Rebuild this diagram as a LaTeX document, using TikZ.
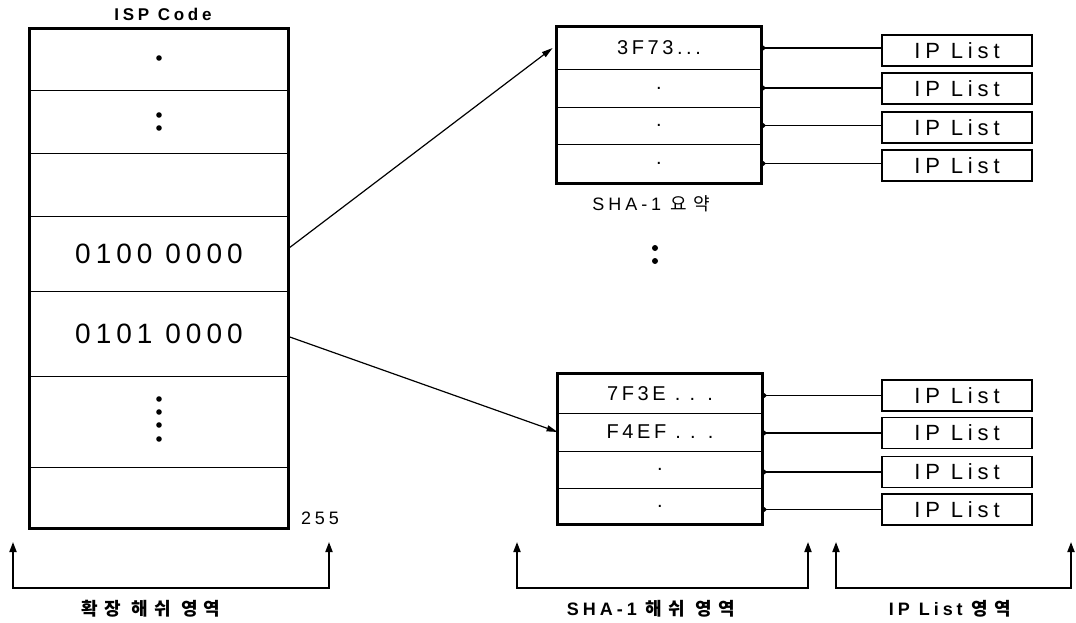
\documentclass[tikz,border=0pt]{standalone}
\usepackage{fontspec}
\setmainfont{Liberation Sans}
\newfontfamily\fA[LetterSpace=18]{Liberation Sans}
\newfontfamily\fB[LetterSpace=22]{Liberation Sans}
\newfontfamily\fK[LetterSpace=35]{Noto Sans CJK KR}
\usetikzlibrary{arrows.meta}
\tikzset{
  cellL/.style={draw, line width=0.8pt, minimum width=258pt, inner sep=0pt,
    font=\fA\fontsize{28}{32}\selectfont},
  cellS/.style={draw, line width=0.8pt, minimum width=204pt, inner sep=0pt,
    font=\fA\fontsize{20}{24}\selectfont},
  ipbox/.style={draw, line width=1.6pt, minimum width=150pt, minimum height=31pt,
    inner sep=0pt, font=\fB\fontsize{22}{26}\selectfont},
  outer/.style={line width=2.6pt},
  conn/.style={line width=1.8pt, {Circle[length=4pt]}-},
  ptr/.style={line width=1.2pt, -{Triangle[length=11pt,width=6pt]}},
  brk/.style={line width=1.8pt, {Triangle[length=10pt,width=7pt]}-{Triangle[length=10pt,width=7pt]}},
  lbl/.style={inner sep=0pt},
  dotc/.style={fill=black}
}
\begin{document}
\begin{tikzpicture}[x=1pt,y=-1pt]
\useasboundingbox (0,0) rectangle (1076,623);

% ISP code table
\node[lbl, font=\fB\bfseries\fontsize{17}{20}\selectfont] (title) at (163,14) {ISP Code};
\node[cellL, minimum height=61pt] (r1) at (159,59.5) {};
\node[cellL, minimum height=63pt] (r2) at (159,121.5) {};
\node[cellL, minimum height=63pt] (r3) at (159,184.5) {};
\node[cellL, minimum height=75pt] (r4) at (159,253.5) {0100 0000};
\node[cellL, minimum height=85pt] (r5) at (159,333.5) {0101 0000};
\node[cellL, minimum height=91pt] (r6) at (159,421.5) {};
\node[cellL, minimum height=61pt] (r7) at (159,497.5) {};
\draw[outer] (r1.north west) rectangle (r7.south east);
\node[lbl, font=\fB\fontsize{18}{21}\selectfont] (n255) at (320,518) {255};

\fill[dotc] ([yshift=1.5pt]r1.center) circle (2.8);
\fill[dotc] ([yshift=6.5pt]r2.center) circle (2.8);
\fill[dotc] ([yshift=-6.5pt]r2.center) circle (2.8);
\fill[dotc] ([yshift=22.5pt]r6.center) circle (2.8);
\fill[dotc] ([yshift=9.5pt]r6.center) circle (2.8);
\fill[dotc] ([yshift=-3.5pt]r6.center) circle (2.8);
\fill[dotc] ([yshift=-17.5pt]r6.center) circle (2.8);

% top SHA-1 table
\node[cellS, minimum height=42pt] (a1) at (659,48) {3F73...};
\node[cellS, minimum height=38pt] (a2) at (659,88) {.};
\node[cellS, minimum height=37pt] (a3) at (659,125.5) {.};
\node[cellS, minimum height=39pt] (a4) at (659,163.5) {.};
\draw[outer] (a1.north west) rectangle (a4.south east);
\node[lbl] (sumlbl) at (651,204) {\fB\fontsize{18}{21}\selectfont SHA-1 \fK\fontsize{18}{21}\selectfont 요약};

\node[ipbox] (ip1) at (957,50.5) {IP List};
\node[ipbox] (ip2) at (957,88.5) {IP List};
\node[ipbox] (ip3) at (957,127.5) {IP List};
\node[ipbox] (ip4) at (957,165.5) {IP List};
\draw[conn] (a1.east) -- (a1.east -| ip1.west);
\draw[conn] (a2.east) -- (a2.east -| ip2.west);
\draw[conn] (a3.east) -- (a3.east -| ip3.west);
\draw[conn] (a4.east) -- (a4.east -| ip4.west);

% middle dots
\fill[dotc] (655,248) circle (3);
\fill[dotc] (655,261) circle (3);

% bottom SHA-1 table
\node[cellS, minimum height=39pt] (b1) at (660,393.5) {7F3E . . .};
\node[cellS, minimum height=38pt] (b2) at (660,432) {F4EF . . .};
\node[cellS, minimum height=37pt] (b3) at (660,469.5) {.};
\node[cellS, minimum height=36pt] (b4) at (660,506) {.};
\draw[outer] (b1.north west) rectangle (b4.south east);

\node[ipbox] (jp1) at (957,395.5) {IP List};
\node[ipbox] (jp2) at (957,433) {IP List};
\node[ipbox] (jp3) at (957,472) {IP List};
\node[ipbox] (jp4) at (957,509.5) {IP List};
\draw[conn] (jp1.west -| b1.east) -- (jp1.west);
\draw[conn] (jp2.west -| b2.east) -- (jp2.west);
\draw[conn] (jp3.west -| b3.east) -- (jp3.west);
\draw[conn] (jp4.west -| b4.east) -- (jp4.west);

% pointers
\draw[ptr] ([yshift=5pt]r4.east) -- ([xshift=-4pt]a1.west);
\draw[ptr] ([yshift=-3pt]r5.east) -- (b2.west);

% brackets
\coordinate (k1) at (13,542);  \coordinate (k2) at (329,542);
\coordinate (s1) at (517,542); \coordinate (s2) at (808,542);
\coordinate (p1) at (836,542); \coordinate (p2) at (1071,542);
\draw[brk] (k1) -- ++(0,46) -| (k2);
\draw[brk] (s1) -- ++(0,46) -| (s2);
\draw[brk] (p1) -- ++(0,46) -| (p2);

\node[lbl, font=\bfseries] (l1) at (151,609) {\fK\fontsize{18}{21}\selectfont 확장 해쉬 영역};
\node[lbl, font=\bfseries] (l2) at (651,609) {\fB\fontsize{18}{21}\selectfont SHA-1 \fK\fontsize{18}{21}\selectfont 해쉬 영역};
\node[lbl, font=\bfseries] (l3) at (950,609) {\fB\fontsize{18}{21}\selectfont IP List \fK\fontsize{18}{21}\selectfont 영역};
\end{tikzpicture}
\end{document}
